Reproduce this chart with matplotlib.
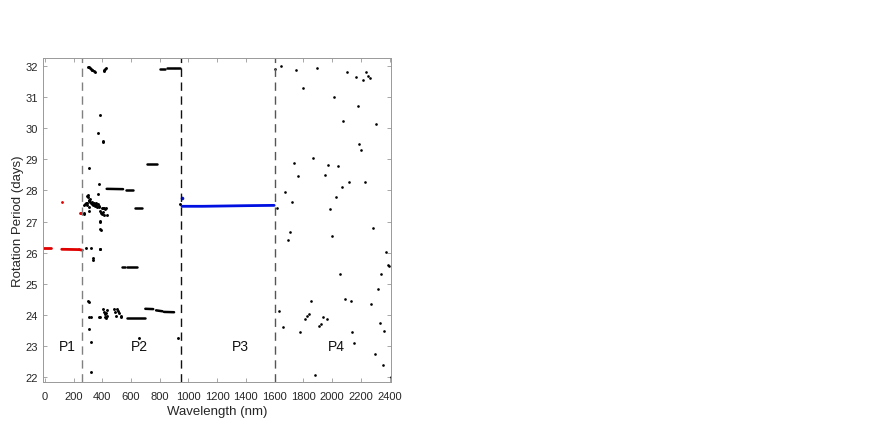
import numpy as np
import matplotlib
matplotlib.use('Agg')
import matplotlib.pyplot as plt

plt.rcParams['font.family'] = ['Liberation Sans', 'DejaVu Sans']

# P1 (red): dense runs (start wl, end wl, start period, end period) + single points
red_run_x0 = [-10, 118, 240]
red_run_x1 = [40, 240, 262]
red_run_y0 = [26.15, 26.11, 26.10]
red_run_y1 = [26.15, 26.10, 26.08]
red_wl = [118, 245, 250, 255]
red_period = [27.63, 27.26, 27.27, 27.27]

# P2 (black): dense runs
blk_run_x0 = [803, 850, 909, 710, 431, 565, 630, 536, 575, 570, 700, 775, 830]
blk_run_x1 = [838, 898, 942, 780, 545, 615, 675, 560, 640, 700, 755, 820, 900]
blk_run_y0 = [31.91, 31.92, 31.93, 28.86, 28.05, 28.01, 27.43, 25.55, 25.54, 23.91, 24.20, 24.15, 24.10]
blk_run_y1 = [31.91, 31.92, 31.93, 28.86, 28.04, 28.01, 27.43, 25.55, 25.54, 23.91, 24.19, 24.12, 24.09]

# P2 (black): scattered points
blk_wl = [302, 308, 314, 320, 326, 332, 340, 347, 410, 413, 418, 424,
          385, 369, 404, 406, 311, 380, 373,
          296, 303, 300, 305, 310, 315, 318, 322, 326, 330, 334, 338, 342, 346, 350,
          355, 360, 365, 370, 375, 380, 272, 280, 288, 295, 292, 308,
          398, 405, 412, 420, 428, 270, 276, 311, 385, 390, 395, 402, 410, 432,
          940, 385, 386, 384, 388, 287, 320, 383, 386, 334, 337, 303, 305,
          311, 320, 375, 385, 408, 412, 416, 418, 425, 428, 432, 436,
          480, 488, 496, 505, 512, 520, 528, 534,
          311, 320, 320, 658, 930]
blk_period = [31.97, 31.95, 31.93, 31.91, 31.88, 31.86, 31.83, 31.80, 31.82, 31.86, 31.89, 31.92,
              30.42, 29.84, 29.60, 29.55, 28.72, 28.21, 27.90,
              27.82, 27.86, 27.78, 27.70, 27.65, 27.72, 27.62, 27.58, 27.55, 27.63, 27.57, 27.52, 27.60, 27.55, 27.50,
              27.58, 27.53, 27.48, 27.56, 27.51, 27.46, 27.52, 27.55, 27.58, 27.53, 27.60, 27.48,
              27.45, 27.42, 27.44, 27.40, 27.45, 27.25, 27.26, 27.33, 27.33, 27.28, 27.25, 27.30, 27.22, 27.22,
              27.57, 27.02, 26.97, 26.76, 26.72, 26.14, 26.14, 26.13, 26.12, 25.84, 25.78, 24.45, 24.42,
              23.94, 23.93, 23.94, 23.95, 24.18, 24.10, 24.02, 23.95, 24.05, 23.92, 24.15, 23.98,
              24.18, 24.10, 23.96, 24.20, 24.12, 24.06, 23.95, 23.96,
              23.55, 23.15, 22.16, 23.26, 23.26]

# P3 (blue): near-constant period line + one point
blue_wl = [955, 1100, 1250, 1400, 1597]
blue_period = [27.49, 27.49, 27.50, 27.51, 27.52]
blue_pt_wl = [955]
blue_pt_period = [27.77]

# P4 (black): scattered points
p4_wl = [1603, 1645, 1751, 1893, 2106, 2166, 2213, 2238, 2248, 2262, 1798, 2015, 2180,
         2078, 2308, 2190, 2204, 1867, 1737, 1974, 2041, 1765, 1949, 2118, 2227, 2069,
         1675, 2029, 1721, 1987, 1614, 2283, 1707, 1691, 2001, 2373, 2387, 2398, 2055,
         2343, 2320, 2271, 2092, 2132, 1853, 1630, 1837, 1823, 1809, 1937, 1965, 1921,
         1909, 1660, 1777, 2141, 2331, 2361, 2155, 2296, 2352, 1881, 2408]
p4_period = [31.89, 32.00, 31.88, 31.92, 31.81, 31.65, 31.55, 31.79, 31.66, 31.62, 31.29, 30.99, 30.72,
             30.22, 30.13, 29.49, 29.30, 29.03, 28.87, 28.81, 28.78, 28.45, 28.51, 28.26, 28.28, 28.10,
             27.94, 27.78, 27.62, 27.40, 27.44, 26.79, 26.67, 26.40, 26.53, 26.01, 25.61, 25.56, 25.32,
             25.32, 24.83, 24.34, 24.50, 24.45, 24.46, 24.12, 24.03, 23.98, 23.86, 23.93, 23.87, 23.72,
             23.65, 23.62, 23.44, 23.46, 23.75, 23.49, 23.11, 22.76, 22.39, 22.06, 22.01]

boundaries = [260, 950, 1600]
boundary_colors = ['#808080', '#111111', '#555555']
region_labels = ['P1', 'P2', 'P3', 'P4']
label_wl = [159, 657, 1365, 2027]

fig = plt.figure(figsize=(8.72, 4.27), dpi=100)
ax = fig.add_axes([0.0497, 0.1023, 0.3983, 0.7588])

for x0, x1, y0, y1 in zip(red_run_x0, red_run_x1, red_run_y0, red_run_y1):
    ax.plot([x0, x1], [y0, y1], color='#e00000', lw=2.0, solid_capstyle='round')
ax.plot(red_wl, red_period, 'o', color='#e00000', markersize=2.0, markeredgewidth=0)

for x0, x1, y0, y1 in zip(blk_run_x0, blk_run_x1, blk_run_y0, blk_run_y1):
    ax.plot([x0, x1], [y0, y1], color='k', lw=1.8, solid_capstyle='round')
ax.plot(blk_wl, blk_period, 'o', color='k', markersize=2.1, markeredgewidth=0)

ax.plot(blue_wl, blue_period, color='#0010e0', lw=2.0, solid_capstyle='round')
ax.plot(blue_pt_wl, blue_pt_period, 'o', color='#0010e0', markersize=2.6, markeredgewidth=0)

ax.plot(p4_wl, p4_period, 'o', color='k', markersize=1.9, markeredgewidth=0)

for b, c in zip(boundaries, boundary_colors):
    ax.axvline(b, color=c, lw=1.0, ls=(0, (6, 4)))

for lab, wl in zip(region_labels, label_wl):
    ax.text(wl, 23.0, lab, ha='center', va='center', fontsize=10, color='#111111')

ax.set_xlim(-10, 2408)
ax.set_ylim(21.84, 32.24)
ax.set_xticks(np.arange(0, 2401, 200))
ax.set_yticks(np.arange(22, 33, 1))
ax.tick_params(direction='in', length=3, width=0.6, colors='#999999', labelcolor='#262626',
               labelsize=8, top=True, right=True)
ax.tick_params(axis='x', pad=6)
ax.tick_params(axis='y', pad=4)
for sp in ax.spines.values():
    sp.set_color('#999999')
    sp.set_linewidth(0.7)

ax.set_xlabel('Wavelength (nm)', fontsize=9.5, color='#262626', labelpad=3)
ax.set_ylabel('Rotation Period (days)', fontsize=9.5, color='#262626', labelpad=1)

fig.savefig('out.png', dpi=100)
